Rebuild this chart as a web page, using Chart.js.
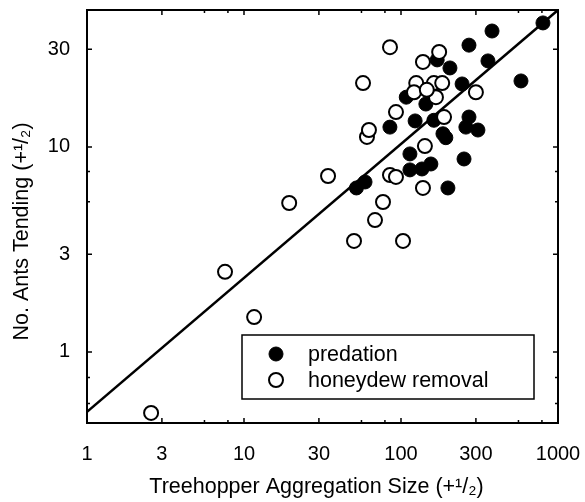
<!DOCTYPE html>
<html>
<head>
<meta charset="utf-8">
<script src="https://cdn.jsdelivr.net/npm/chart.js@4.4.0/dist/chart.umd.min.js"></script>
<style>
  html, body { margin: 0; padding: 0; background: #fff; }
  #wrap { width: 585px; height: 502px; }
</style>
</head>
<body>
<div id="wrap"><canvas id="myChart"></canvas></div>
<script>
// values (aggregation size +1/2, ants tending +1/2)
const predationX = [802, 380, 271, 170, 205, 358, 581, 245, 108, 144, 85, 123, 162, 271, 259, 309, 185, 193, 114, 252, 114, 136, 155, 199, 52, 59];
const predationY = [40.3, 36.8, 31.4, 26.6, 24.3, 26.3, 21.0, 20.3, 17.5, 16.2, 12.5, 13.4, 13.5, 14.0, 12.5, 12.1, 11.6, 11.1, 9.25, 8.74, 7.73, 7.81, 8.26, 6.31, 6.31, 6.75];
const honeydewX = [2.56, 7.57, 11.6, 19.4, 34.3, 50.2, 68.3, 76.8, 85.1, 92.9, 103, 138, 142, 60.7, 62.5, 92.9, 188, 57.3, 85.1, 138, 175, 125, 162, 183, 121, 167, 300, 146];
const honeydewY = [0.504, 2.46, 1.48, 5.33, 7.22, 3.48, 4.40, 5.39, 7.30, 7.14, 3.48, 6.31, 10.1, 11.2, 12.1, 14.8, 14.0, 20.5, 30.7, 26.0, 29.1, 20.5, 20.5, 20.5, 18.5, 17.5, 18.5, 19.0];

// fitted line end points
const fitX = [1, 1000];
const fitY = [0.51, 46.6];

const xTicks = [1, 3, 10, 30, 100, 300, 1000];
const yTicks = [1, 3, 10, 30];
const xMinor = [5.6, 7.9, 56, 79, 560, 790];
const yMinor = [0.56, 0.75, 5.4, 7.6];
const seriesNames = ['predation', 'honeydew removal'];

const FONT = "'Liberation Sans', Arial, Helvetica, sans-serif";
Chart.defaults.font.family = FONT;
Chart.defaults.color = '#000';

const toPoints = (xs, ys) => xs.map((x, i) => ({ x: x, y: ys[i] }));

// kill the extra room chart.js keeps for edge labels
const noEdgePad = s => {
    s.paddingTop = 0; s.paddingBottom = 0;
    s.paddingLeft = 0; s.paddingRight = 0;
};

// frame with inward tick marks on all four sides
const framePlugin = {
    id: 'frame',
    afterDatasetsDraw(chart) {
        const ctx = chart.ctx;
        const a = chart.chartArea;
        const xs = chart.scales.x, ys = chart.scales.y;
        ctx.save();
        ctx.strokeStyle = '#000';
        ctx.lineWidth = 1.5;
        const tick = (vals, len) => {
            vals.forEach(v => {
                const px = xs.getPixelForValue(v);
                ctx.beginPath();
                ctx.moveTo(px, a.bottom); ctx.lineTo(px, a.bottom - len);
                ctx.moveTo(px, a.top); ctx.lineTo(px, a.top + len);
                ctx.stroke();
            });
        };
        const tickY = (vals, len) => {
            vals.forEach(v => {
                const py = ys.getPixelForValue(v);
                ctx.beginPath();
                ctx.moveTo(a.left, py); ctx.lineTo(a.left + len, py);
                ctx.moveTo(a.right, py); ctx.lineTo(a.right - len, py);
                ctx.stroke();
            });
        };
        tick(xTicks, 5); tick(xMinor, 3);
        tickY(yTicks, 5); tickY(yMinor, 3);
        ctx.lineWidth = 2;
        ctx.strokeRect(a.left, a.top, a.right - a.left, a.bottom - a.top);
        ctx.restore();
    }
};

// legend box inside the plot
const legendPlugin = {
    id: 'boxLegend',
    afterDraw(chart) {
        const ctx = chart.ctx;
        const bx = 242, by = 335, bw = 292, bh = 64;
        ctx.save();
        ctx.fillStyle = '#fff';
        ctx.fillRect(bx, by, bw, bh);
        ctx.strokeStyle = '#000';
        ctx.lineWidth = 1.5;
        ctx.strokeRect(bx, by, bw, bh);
        const rows = [
            { label: seriesNames[0], fill: '#000', y: by + 19 },
            { label: seriesNames[1], fill: '#fff', y: by + 45 }
        ];
        rows.forEach(r => {
            ctx.beginPath();
            ctx.arc(bx + 34, r.y, 7, 0, Math.PI * 2);
            ctx.fillStyle = r.fill;
            ctx.fill();
            ctx.lineWidth = r.fill === '#fff' ? 2 : 1;
            ctx.stroke();
            ctx.fillStyle = '#000';
            ctx.font = '21.5px ' + FONT;
            ctx.textBaseline = 'middle';
            ctx.fillText(r.label, bx + 66, r.y + 1);
        });
        ctx.restore();
    }
};

new Chart(document.getElementById('myChart').getContext('2d'), {
    type: 'scatter',
    data: {
        datasets: [{
            label: seriesNames[1],
            data: toPoints(honeydewX, honeydewY),
            backgroundColor: '#fff',
            borderColor: '#000',
            borderWidth: 2,
            pointRadius: 7,
            order: 0
        }, {
            label: seriesNames[0],
            data: toPoints(predationX, predationY),
            backgroundColor: '#000',
            borderColor: '#000',
            borderWidth: 1,
            pointRadius: 7,
            order: 1
        }, {
            type: 'line',
            label: 'fit',
            data: toPoints(fitX, fitY),
            borderColor: '#000',
            borderWidth: 2.5,
            pointRadius: 0,
            fill: false,
            order: 2
        }]
    },
    options: {
        responsive: true,
        maintainAspectRatio: false,
        animation: false,
        layout: { padding: { top: 10, right: 27, left: 0, bottom: 0 } },
        plugins: {
            legend: { display: false },
            tooltip: { enabled: false }
        },
        scales: {
            x: {
                type: 'logarithmic',
                min: 1,
                max: 1000,
                afterBuildTicks: s => { s.ticks = xTicks.map(v => ({ value: v })); },
                afterFit: s => { s.height = 79; noEdgePad(s); },
                ticks: {
                    font: { size: 20 },
                    padding: 19,
                    maxRotation: 0,
                    autoSkip: false,
                    callback: v => String(v)
                },
                grid: { display: false, drawTicks: false },
                border: { display: false },
                title: {
                    display: true,
                    // trailing spaces nudge it a little left, like the original
                    text: 'Treehopper Aggregation Size (+¹/₂)  ',
                    font: { size: 21.5 },
                    padding: { top: 0, bottom: 2 }
                }
            },
            y: {
                type: 'logarithmic',
                min: 0.45,
                max: 46.6,
                afterBuildTicks: s => { s.ticks = yTicks.map(v => ({ value: v })); },
                afterFit: s => { s.width = 87; noEdgePad(s); },
                ticks: {
                    font: { size: 20 },
                    padding: 17,
                    autoSkip: false,
                    callback: v => String(v)
                },
                grid: { display: false, drawTicks: false },
                border: { display: false },
                title: {
                    display: true,
                    // trailing spaces push the text down a bit
                    text: 'No. Ants Tending (+¹/₂)     ',
                    font: { size: 21.5 },
                    padding: { top: 9, bottom: 0 }
                }
            }
        }
    },
    plugins: [framePlugin, legendPlugin]
});
</script>
</body>
</html>
